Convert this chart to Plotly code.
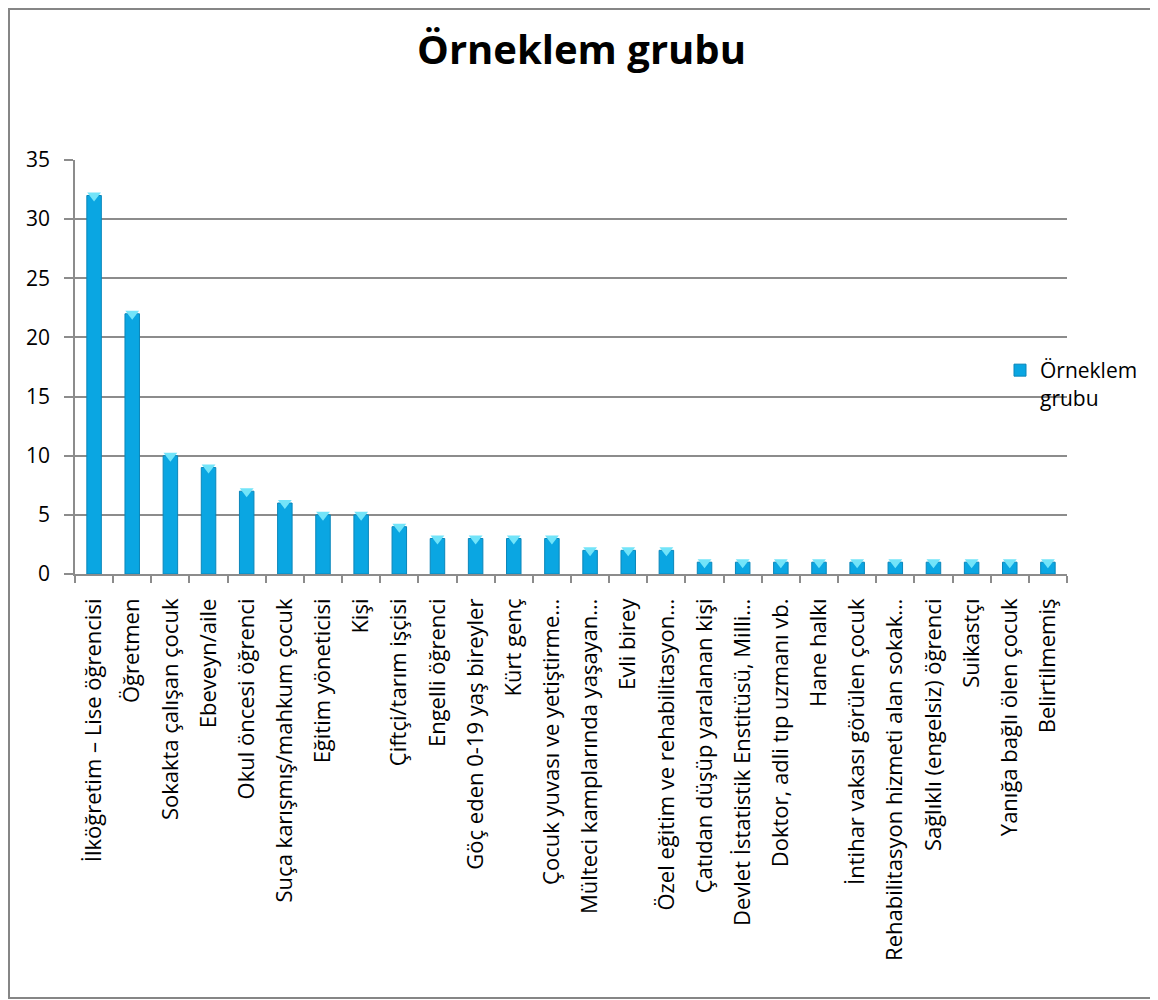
import plotly.graph_objects as go

# data
categories = [
    "İlköğretim – Lise öğrencisi",
    "Öğretmen",
    "Sokakta çalışan çocuk",
    "Ebeveyn/aile",
    "Okul öncesi öğrenci",
    "Suça karışmış/mahkum çocuk",
    "Eğitim yöneticisi",
    "Kişi",
    "Çiftçi/tarım işçisi",
    "Engelli öğrenci",
    "Göç eden 0-19 yaş bireyler",
    "Kürt genç",
    "Çocuk yuvası ve yetiştirme…",
    "Mülteci kamplarında yaşayan…",
    "Evli birey",
    "Özel eğitim ve rehabilitasyon…",
    "Çatıdan düşüp yaralanan kişi",
    "Devlet İstatistik Enstitüsü, Milli…",
    "Doktor, adli tıp uzmanı vb.",
    "Hane halkı",
    "İntihar vakası görülen çocuk",
    "Rehabilitasyon hizmeti alan sokak…",
    "Sağlıklı (engelsiz) öğrenci",
    "Suikastçı",
    "Yanığa bağlı ölen çocuk",
    "Belirtilmemiş",
]
values = [32, 22, 10, 9, 7, 6, 5, 5, 4, 3, 3, 3, 3, 2, 2, 2,
          1, 1, 1, 1, 1, 1, 1, 1, 1, 1]
y_ticks = [0, 5, 10, 15, 20, 25, 30, 35]

# the page puts the figure 8px in from the corner, so size it to fit
W, H = 1150, 992
ML, MR, MT, MB = 67, 91, 152, 426
FONT = "Open Sans"
GRID = "#8c8c8c"

fig = go.Figure()
fig.add_trace(go.Bar(
    x=categories, y=values,
    name="Örneklem<br>grubu",
    width=0.38,
    marker=dict(color="#0AA6E2", line=dict(color="#0A86BA", width=1)),
    hoverinfo="x+y",
))
# light bevel on top of each bar
fig.add_trace(go.Scatter(
    x=categories, y=values, mode="markers", showlegend=False,
    marker=dict(symbol="triangle-down", size=12, color="#72E4F9",
                line=dict(width=0)),
    hoverinfo="skip",
))

fig.update_layout(
    width=W, height=H,
    margin=dict(l=ML, r=MR, t=MT, b=MB, autoexpand=False),
    paper_bgcolor="white", plot_bgcolor="white",
    font=dict(family=FONT, color="black"),
    title=dict(text="<b>Örneklem grubu</b>", x=573.5 / W, xref="container",
               xanchor="center", y=1 - 42 / H, yanchor="middle",
               font=dict(size=40, family=FONT, color="black")),
    showlegend=True,
    legend=dict(x=(992 - ML) / (W - ML - MR), y=(566 - 342) / (H - MT - MB),
                xanchor="left", yanchor="top", valign="top",
                font=dict(size=21, family=FONT), bgcolor="rgba(0,0,0,0)",
                itemwidth=30, tracegroupgap=0),
    bargap=0.62,
)

fig.update_xaxes(
    type="category", range=[-0.5, len(categories) - 0.5],
    tickangle=-90, tickfont=dict(size=22, family=FONT),
    showline=True, linecolor=GRID, linewidth=1.5,
    ticks="outside", tickson="boundaries", ticklen=7, tickcolor=GRID,
    tickwidth=1.5, showgrid=False, ticklabelstandoff=14,
)
fig.update_yaxes(
    range=[0, 35], tickvals=y_ticks, tickfont=dict(size=21, family=FONT),
    showline=True, linecolor=GRID, linewidth=1.5,
    ticks="outside", ticklen=9, tickcolor=GRID, tickwidth=1.5,
    showgrid=True, gridcolor=GRID, gridwidth=1.5, zeroline=False,
    ticklabelstandoff=10,
)

# outer chart border
pw, ph = W - ML - MR, H - MT - MB
fig.add_shape(type="rect", xref="paper", yref="paper",
              x0=(1 - ML) / pw, x1=(1148 - ML) / pw,
              y0=(H - MB - 990) / ph, y1=(H - MB - 1) / ph,
              line=dict(color="#868686", width=2), fillcolor="rgba(0,0,0,0)",
              layer="below")

fig.write_html("out.html")
